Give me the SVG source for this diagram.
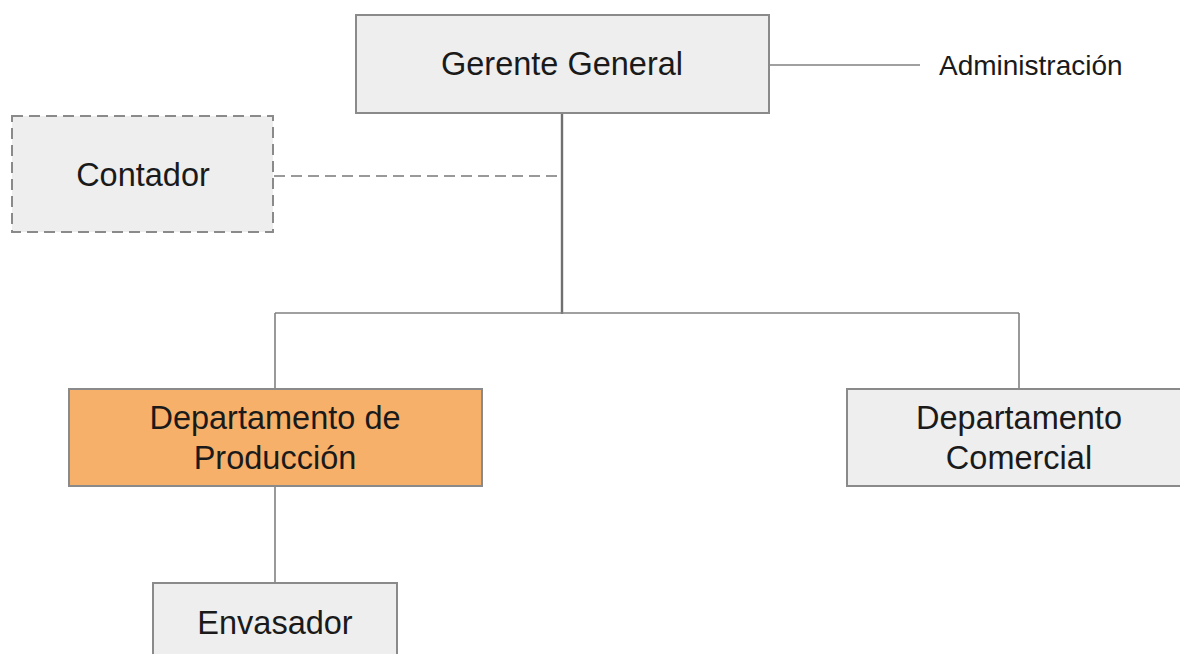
<svg xmlns="http://www.w3.org/2000/svg" width="1180" height="654" viewBox="0 0 1180 654">
<style>
.box{fill:#eeeeee;stroke:#8a8a8a;stroke-width:2}
.dash{stroke-dasharray:11 6}
.orange{fill:#f6b06a}
.t{font-family:"Liberation Sans",Arial,sans-serif;font-size:32.5px;fill:#1a1a1a;text-anchor:middle}
.s{font-family:"Liberation Sans",Arial,sans-serif;font-size:28px;fill:#1a1a1a}
.ln{stroke:#808080;stroke-width:1.6;fill:none}
</style>
<rect width="1180" height="654" fill="#ffffff"/>
<g id="connectors">
<line class="ln" x1="562" y1="113" x2="562" y2="314" style="stroke-width:2.4;stroke:#707070"/>
<line class="ln" x1="275" y1="313" x2="1019" y2="313"/>
<line class="ln" x1="275" y1="313" x2="275" y2="389"/>
<line class="ln" x1="1019" y1="313" x2="1019" y2="389"/>
<line class="ln" x1="275" y1="486" x2="275" y2="583"/>
<line class="ln dash" x1="274" y1="176" x2="562" y2="176" style="stroke:#999999;stroke-width:2"/>
<line class="ln" x1="769" y1="65" x2="920" y2="65"/>
</g>
<g id="gerente">
<rect class="box" x="356" y="15" width="413" height="98"/>
<text class="t" x="562" y="75">Gerente General</text>
</g>
<g id="administracion">
<text class="s" x="939" y="75">Administración</text>
</g>
<g id="contador">
<rect class="box dash" x="12" y="116" width="261" height="116"/>
<text class="t" x="143" y="186">Contador</text>
</g>
<g id="produccion">
<rect class="box orange" x="69" y="389" width="413" height="97"/>
<text class="t" x="275" y="429">Departamento de</text>
<text class="t" x="275" y="469">Producción</text>
</g>
<g id="comercial">
<rect class="box" x="847" y="389" width="344" height="97"/>
<text class="t" x="1019" y="429">Departamento</text>
<text class="t" x="1019" y="469">Comercial</text>
</g>
<g id="envasador">
<rect class="box" x="153" y="583" width="244" height="90"/>
<text class="t" x="275" y="634">Envasador</text>
</g>
</svg>
